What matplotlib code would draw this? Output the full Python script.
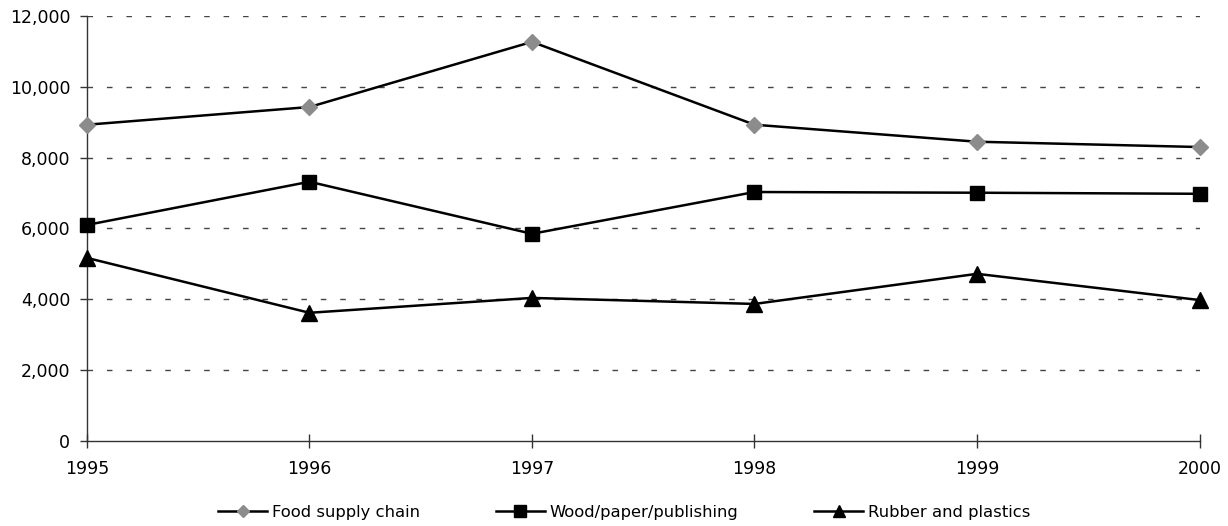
import matplotlib
matplotlib.use('Agg')
import matplotlib.pyplot as plt

years = [1995, 1996, 1997, 1998, 1999, 2000]
food = [8930, 9430, 11270, 8930, 8450, 8300]
wood = [6100, 7320, 5850, 7030, 7010, 6980]
rubber = [5170, 3620, 4040, 3870, 4720, 3980]
yticks = [0, 2000, 4000, 6000, 8000, 10000, 12000]

plt.rcParams['font.family'] = ['DejaVu Sans']

fig = plt.figure(figsize=(12.28, 5.26), dpi=100)
ax = fig.add_axes([0.0708, 0.1616, 0.906, 0.808])

# series
ax.plot(years, food, color='black', lw=1.8, marker='D', ms=8,
        mfc='#8c8c8c', mec='#8c8c8c', label='Food supply chain', clip_on=False, zorder=3)
ax.plot(years, wood, color='black', lw=1.8, marker='s', ms=10.5,
        mfc='black', mec='black', label='Wood/paper/publishing', clip_on=False, zorder=3)
ax.plot(years, rubber, color='black', lw=1.8, marker='^', ms=11,
        mfc='black', mec='black', label='Rubber and plastics', clip_on=False, zorder=3)

ax.set_xlim(1995, 2000)
ax.set_ylim(0, 12000)
ax.set_xticks(years)
ax.set_yticks(yticks)
ax.set_yticklabels([f'{v:,}' for v in yticks])

for v in yticks[1:]:
    ax.axhline(v, color='#444444', lw=1, ls=(0, (4, 10)), zorder=1)

for s in ['top', 'right']:
    ax.spines[s].set_visible(False)
for s in ['left', 'bottom']:
    ax.spines[s].set_color('#333333')
    ax.spines[s].set_linewidth(1)

ax.tick_params(axis='y', direction='out', length=5, width=1, color='#333333',
               labelsize=12.5, pad=7)
ax.tick_params(axis='x', direction='inout', length=10, width=1, color='#333333',
               labelsize=12.5, pad=9)

ax.legend(loc='upper center', bbox_to_anchor=(0.483, -0.115), ncol=3, frameon=False,
          fontsize=11.8, handlelength=3.0, columnspacing=4.6, handletextpad=0.3,
          markerscale=0.8)

fig.savefig('out.png', dpi=100, facecolor='white')
